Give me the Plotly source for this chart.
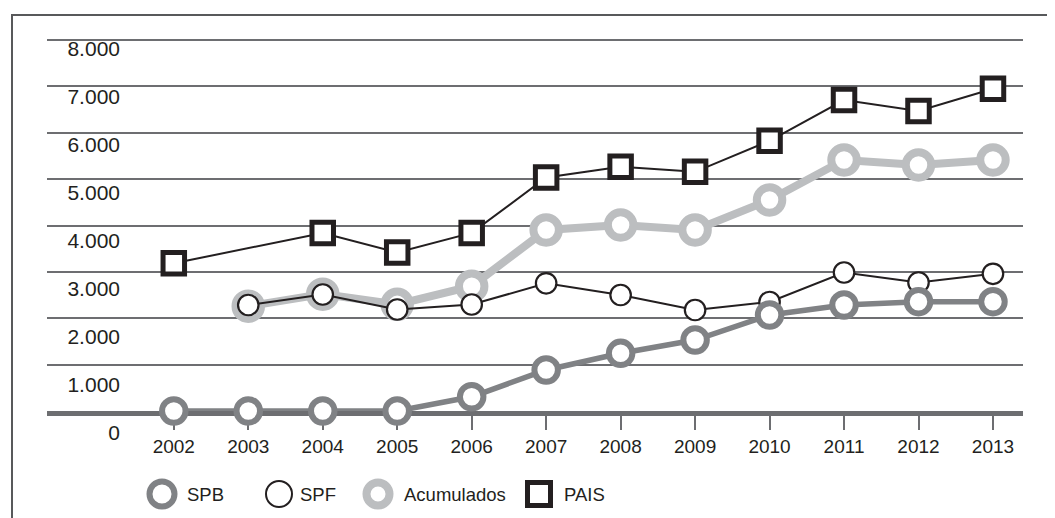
import plotly.graph_objects as go

# ---------------- data ----------------
years = [2002, 2003, 2004, 2005, 2006, 2007, 2008, 2009, 2010, 2011, 2012, 2013]
year_labels = [str(y) for y in years]

spb = [0, 0, 0, 0, 308, 884, 1244, 1531, 2070, 2286, 2357, 2357]
spf = [None, 2286, 2512, 2189, 2296, 2753, 2501, 2178, 2350, 2986, 2771, 2958]
acumulados = [None, 2260, 2520, 2300, 2690, 3903, 4011, 3903, 4550, 5412, 5305, 5412]
pais = [3185, None, 3840, 3420, 3840, 5035, 5268, 5158, 5826, 6706, 6469, 6948]

y_tick_values = [0, 1000, 2000, 3000, 4000, 5000, 6000, 7000, 8000]
y_tick_labels = ["0", "1.000", "2.000", "3.000", "4.000", "5.000", "6.000", "7.000", "8.000"]

legend_labels = ["SPB", "SPF", "Acumulados", "PAIS"]

# ---------------- styles ----------------
FONT = "Liberation Sans, Arial, sans-serif"
BLACK = "#231f20"
DARK_GREY = "#808285"
LIGHT_GREY = "#bcbec0"
AXIS_GREY = "#6d6e71"

# the page body adds an 8px margin; work in page pixels and convert
OFF = 8
PAGE_W, PAGE_H = 1055, 518
W, H = PAGE_W - OFF, PAGE_H - OFF

plot_left, plot_right = 47, 1023      # page px
plot_top, paper_bottom = 30, 508      # page px
ML = plot_left - OFF
MR = W - (plot_right - OFF)
MT = plot_top - OFF
MB = H - (paper_bottom - OFF)
PW = W - ML - MR
PH = H - MT - MB

def yfrac(py):
    return (paper_bottom - py) / PH

def xfrac(px):
    return (px - plot_left) / PW

# main axes pixel mapping (page px)
zero_px, eight_px = 411, 40
k = (zero_px - eight_px) / 8000.0
y_top_val = (zero_px - plot_top) / k

x0_px, dx_px = 173.8, 74.47
x_lo = 2002 - (x0_px - plot_left) / dx_px
x_hi = 2013 + (plot_right - (x0_px + 11 * dx_px)) / dx_px

# label axis mapping (labels sit slightly below the gridlines)
lab0_px, lab8_px = 433, 49
k2 = (lab0_px - lab8_px) / 8000.0
r0 = -(paper_bottom - lab0_px) / k2
r1 = r0 + PH / k2

series_styles = [
    # name, values, colour, line width, marker symbol, marker size, marker line width
    ("Acumulados", acumulados, LIGHT_GREY, 8, "circle", 25.5, 8),
    ("SPF", spf, BLACK, 2, "circle", 20.5, 2.2),
    ("SPB", spb, DARK_GREY, 5.5, "circle", 23.5, 6),
    ("PAIS", pais, BLACK, 2, "square", 21.5, 5),
]

fig = go.Figure()

for name, vals, col, lw, sym, ms, mlw in series_styles:
    fig.add_trace(go.Scatter(
        x=years, y=vals, name=name, mode="lines+markers",
        connectgaps=True, cliponaxis=False, showlegend=False,
        line=dict(color=col, width=lw),
        marker=dict(symbol=sym, size=ms, color="white",
                    line=dict(color=col, width=mlw)),
        xaxis="x", yaxis="y",
    ))

# dummy trace to bring the label axis to life
fig.add_trace(go.Scatter(x=[None], y=[None], xaxis="x", yaxis="y2",
                         showlegend=False, hoverinfo="skip"))

# custom legend drawn on its own hidden axes (x in page pixels)
legend_marker_x = [162, 279, 378, 539]
legend_text_x = [185, 298, 402, 562]
legend_styles = {
    "SPB": (DARK_GREY, "circle", 25, 6),
    "SPF": (BLACK, "circle", 26, 2),
    "Acumulados": (LIGHT_GREY, "circle", 23, 8),
    "PAIS": (BLACK, "square", 23, 5),
}
for lab, mx, tx in zip(legend_labels, legend_marker_x, legend_text_x):
    col, sym, ms, mlw = legend_styles[lab]
    fig.add_trace(go.Scatter(
        x=[mx], y=[0], mode="markers", xaxis="x3", yaxis="y3",
        cliponaxis=False, showlegend=False, hoverinfo="skip",
        marker=dict(symbol=sym, size=ms, color="white", line=dict(color=col, width=mlw)),
    ))
    fig.add_annotation(x=tx, y=0, xref="x3", yref="y3", text=lab,
                       showarrow=False, xanchor="left", yanchor="middle",
                       font=dict(family=FONT, size=18.5, color=BLACK))

leg_c = yfrac(494)

fig.update_layout(
    width=W, height=H,
    margin=dict(l=ML, r=MR, t=MT, b=MB, pad=0),
    paper_bgcolor="white", plot_bgcolor="rgba(0,0,0,0)",
    font=dict(family=FONT, color=BLACK),
    showlegend=False,
    xaxis=dict(
        domain=[0, 1], range=[x_lo, x_hi], anchor="y",
        tickmode="array", tickvals=years, ticktext=year_labels,
        showline=True, linecolor=AXIS_GREY, linewidth=5,
        ticks="outside", ticklen=14, tickwidth=2, tickcolor=AXIS_GREY,
        showgrid=False, zeroline=False, layer="below traces",
        tickfont=dict(family=FONT, size=19, color=BLACK),
    ),
    yaxis=dict(
        domain=[yfrac(zero_px), 1], range=[0, y_top_val], anchor="x",
        tickmode="array", tickvals=y_tick_values,
        showgrid=True, gridcolor=AXIS_GREY, gridwidth=1.8,
        showticklabels=False, zeroline=False, showline=False, ticks="",
        layer="below traces",
    ),
    yaxis2=dict(
        domain=[0, 1], range=[r0, r1], anchor="free",
        position=xfrac(120),
        tickmode="array", tickvals=y_tick_values, ticktext=y_tick_labels,
        showgrid=False, zeroline=False, showline=False, ticks="",
        tickfont=dict(family=FONT, size=21, color=BLACK),
    ),
    xaxis3=dict(domain=[0, 1], range=[plot_left, plot_right], anchor="y3", visible=False),
    yaxis3=dict(domain=[leg_c - 0.015, leg_c + 0.015], range=[-1, 1],
                anchor="x3", visible=False),
    shapes=[dict(type="rect", xref="paper", yref="paper",
                 x0=xfrac(12), x1=1.3, y0=-0.3, y1=yfrac(15),
                 line=dict(color="#58595b", width=2), fillcolor="rgba(0,0,0,0)",
                 layer="below")],
)

fig.write_html("out.html")
